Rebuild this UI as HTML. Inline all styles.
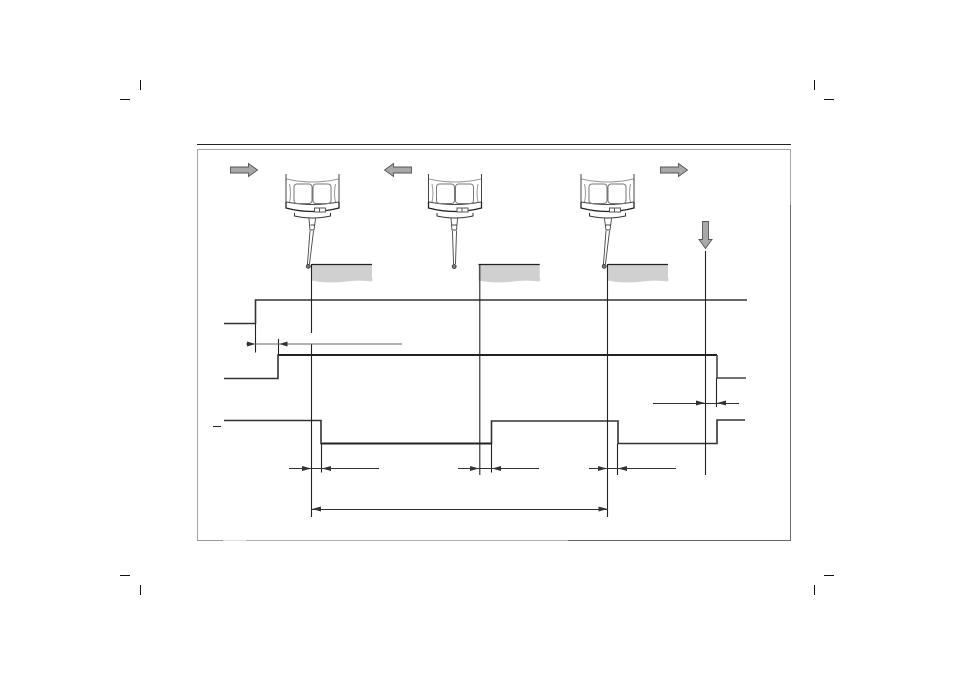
<!DOCTYPE html>
<html>
<head>
<meta charset="utf-8">
<style>
html,body{margin:0;padding:0;background:#fff;width:954px;height:674px;overflow:hidden}
svg{display:block}
</style>
</head>
<body>
<svg xmlns="http://www.w3.org/2000/svg" width="954" height="674" viewBox="0 0 954 674">
<defs>
<g id="head" fill="none" stroke="#333" stroke-width="1">
  <path d="M-26.500 0V29" stroke="#444"/>
  <path d="M26.500 0V29" stroke="#444"/>
  <path d="M-26 5Q0 11 26 5" stroke="#999"/>
  <path d="M-26 28Q0 33 26 28" stroke="#444"/>
  <rect x="-18.500" y="10" width="18" height="19.500" rx="3" stroke="#777"/>
  <rect x="0.500" y="10" width="18" height="19.500" rx="3" stroke="#777"/>
  <path d="M-23 10Q-21 20 -23 28M23 10Q21 20 23 28" stroke="#999"/>
  <path d="M-26.500 28V34Q0 41 26.500 34V28" stroke="#222" stroke-width="1.300"/>
  <path d="M-18 39V42Q0 46 18 42V39" stroke="#333"/>
  <rect x="2" y="34" width="11" height="4" stroke="#555" fill="#fff"/>
  <path d="M7 34V38" stroke="#555"/>
</g>
<g id="block">
  <path d="M0 0H60V13Q61 15 60 17Q45 15 30 17.500Q14 19 0 16Z" fill="#d0d0d0"/>
  <path d="M0 0H60" stroke="#222" stroke-width="1.200" fill="none"/>
</g>
<path id="arrowR" d="M0 -3H18V-6.500L27 0L18 6.500V3H0Z" fill="#a8a8a8" stroke="#555" stroke-width="0.900"/>
</defs>

<rect width="954" height="674" fill="#fff"/>

<!-- crop marks -->
<g stroke="#111" stroke-width="1" fill="none">
  <path d="M140.500 80V90M120 99.500H130"/>
  <path d="M814.500 80V90M824 99.500H834"/>
  <path d="M120 575.500H130M140.500 585V595"/>
  <path d="M824 575.500H834M814.500 585V595"/>
</g>

<!-- rule and frame -->
<path d="M197 144.500H791" stroke="#222" stroke-width="1"/>
<g fill="none" stroke-width="1">
  <path d="M197.500 541V149.500H790.500V205" stroke="#a6a6a6"/>
  <path d="M790.500 205V540.500H568" stroke="#6a6a6a"/>
  <path d="M568 540.500H246" stroke="#b0b0b0"/>
  <path d="M246 540.500H223" stroke="#dedede"/>
  <path d="M223 540.500H197" stroke="#999"/>
</g>

<!-- movement arrows -->
<use href="#arrowR" transform="translate(230.500 170)"/>
<use href="#arrowR" transform="translate(411.500 170) scale(-1 1)"/>
<use href="#arrowR" transform="translate(660.500 170)"/>
<use href="#arrowR" transform="translate(705.500 221.500) rotate(90)"/>

<!-- probe heads -->
<use href="#head" transform="translate(312.500 174)"/>
<use href="#head" transform="translate(455 174)"/>
<use href="#head" transform="translate(607.500 174)"/>

<!-- styli -->
<g fill="none" stroke="#444" stroke-width="0.900">
  <path d="M309 218.500L310 230H314L315.500 218.500M310.500 225H314.500"/>
  <path d="M310 231L307.500 264M313.500 231L309.500 264"/>
  <path d="M451 218.500L452 230H456.500L457.500 218.500M451.500 225H457"/>
  <path d="M452.500 231L453.500 264M456.500 231L455.500 264"/>
  <path d="M604.500 218.500L606 230H610L611.500 218.500M605 225H611"/>
  <path d="M606 231L603.500 264M609.500 231L605.500 264"/>
</g>
<g fill="#777" stroke="#333" stroke-width="0.800">
  <circle cx="308.300" cy="266.300" r="2"/>
  <circle cx="454.200" cy="266.500" r="2"/>
  <circle cx="604.200" cy="266.300" r="2"/>
</g>

<!-- workpieces -->
<use href="#block" transform="translate(312 264.500)"/>
<use href="#block" transform="translate(478.500 264.500) scale(1.020 1)"/>
<use href="#block" transform="translate(608 264.500)"/>

<!-- signals -->
<g fill="none" stroke-linejoin="miter">
  <path d="M224 323.500H255.500V300H747" stroke="#333" stroke-width="1.600"/>
  <path d="M224 378.500H278V355H717" stroke="#333" stroke-width="1.600"/>
  <path d="M279 355H717" stroke="#222" stroke-width="2"/>
  <path d="M717 355V378H746" stroke="#444" stroke-width="1.600"/>
  <path d="M224 420.500H321V443.500H491.500V421H618V443.500H717V420H745" stroke="#333" stroke-width="1.600"/>
  <path d="M322 443.500H491" stroke="#222" stroke-width="2"/>
</g>
<path d="M213 426.500H221" stroke="#222" stroke-width="1"/>

<!-- vertical reference lines -->
<g stroke="#222" stroke-width="1.100" fill="none">
  <path d="M311.500 264V333M311.500 344V517"/>
  <path d="M479.800 264V475"/>
  <path d="M607.500 264V517"/>
  <path d="M705.500 251V475"/>
  <path d="M255.500 324V352.500"/>
  <path d="M278.500 339V355"/>
  <path d="M321.500 444V472.500"/>
  <path d="M491.500 444V472.500"/>
  <path d="M617.500 444V475"/>
  <path d="M716.500 378V407"/>
</g>

<!-- dimension lines -->
<g stroke="#333" stroke-width="1" fill="none">
  <path d="M246 344H402" stroke="#666"/>
  <path d="M289 468.500H379"/>
  <path d="M458 468.500H539"/>
  <path d="M589 468.500H676"/>
  <path d="M312 509.500H608"/>
  <path d="M653 403.500H739"/>
</g>

<!-- arrowheads -->
<g fill="#333">
  <path d="M255.500 344L247 341.500V346.500Z"/>
  <path d="M279 344L287.500 341.500V346.500Z"/>
  <path d="M311.500 468.500L302 466V471Z"/>
  <path d="M322 468.500L331 466V471Z"/>
  <path d="M479 468.500L470 466V471Z"/>
  <path d="M492 468.500L501 466V471Z"/>
  <path d="M607 468.500L598 466V471Z"/>
  <path d="M618 468.500L627 466V471Z"/>
  <path d="M312 509L321 506.500V511.500Z"/>
  <path d="M607.500 509L598.500 506.500V511.500Z"/>
  <path d="M705 403L696 400.500V405.500Z"/>
  <path d="M717 403L726 400.500V405.500Z"/>
</g>
</svg>
</body>
</html>
